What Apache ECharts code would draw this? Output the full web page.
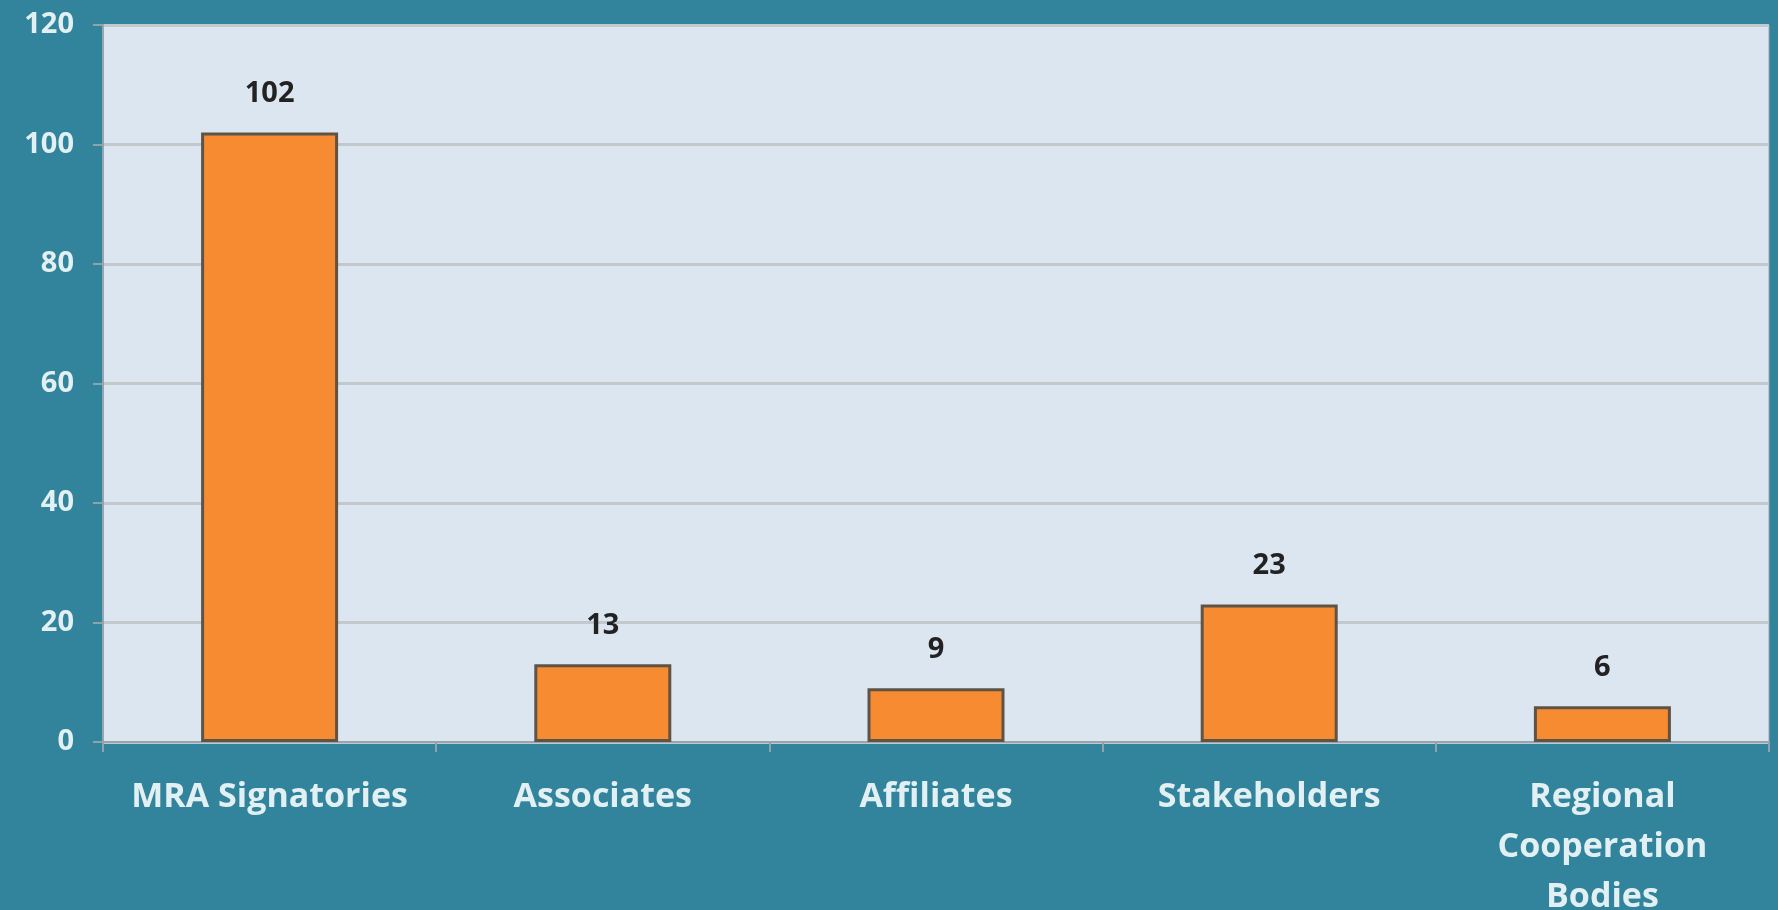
<!DOCTYPE html>
<html>
<head>
<meta charset="utf-8">
<script src="https://cdn.jsdelivr.net/npm/echarts@6/dist/echarts.min.js"></script>
<style>
	html, body { margin: 0; padding: 0; background: #31849b; }
	#main { width: 1778px; height: 910px; }
</style>
</head>
<body>
<div id="main"></div>
<script>
const categories = ["MRA Signatories", "Associates", "Affiliates", "Stakeholders", "Regional\nCooperation\nBodies"];
const memberCounts = [102, 13, 9, 23, 6];
const yTicks = [0, 20, 40, 60, 80, 100, 120];

const chart = echarts.init(document.getElementById("main"));

const option = {
	backgroundColor: "#31849b",
	textStyle: { fontFamily: "Open Sans" },
	grid: {
		left: 103,
		right: 9,
		top: 25,
		bottom: 168,
		outerBoundsMode: "none",
		show: true,
		backgroundColor: "#dce6f1",
		borderColor: "#9aa4ad",
		borderWidth: 1,
	},
	xAxis: {
		type: "category",
		data: categories,
		axisLine: { lineStyle: { color: "#9aa4ad", width: 2 } },
		axisTick: { show: true, length: 10, lineStyle: { color: "#8fa3ab", width: 2 } },
		axisLabel: {
			color: "#e2f0f4",
			fontSize: 34,
			fontWeight: "bold",
			lineHeight: 50,
			margin: 30,
			interval: 0,
		},
	},
	yAxis: {
		type: "value",
		min: yTicks[0],
		max: yTicks[yTicks.length - 1],
		interval: 20,
		axisLine: { show: true, lineStyle: { color: "#9aa4ad", width: 2 } },
		axisTick: { show: true, length: 10, lineStyle: { color: "#8fa3ab", width: 2 } },
		axisLabel: {
			color: "#e2f0f4",
			fontSize: 29,
			fontWeight: "bold",
			margin: 29,
		},
		splitLine: { lineStyle: { color: "#c3c8cd", width: 3 } },
	},
	series: [
		{
			type: "bar",
			data: memberCounts,
			barWidth: 137,
			itemStyle: {
				color: "#f68b32",
				borderColor: "#5e5446",
				borderWidth: 3,
			},
			label: {
				show: true,
				position: "top",
				distance: 24,
				color: "#222222",
				fontSize: 29,
				fontWeight: "bold",
			},
		},
	],
};

chart.setOption(option);
</script>
</body>
</html>
